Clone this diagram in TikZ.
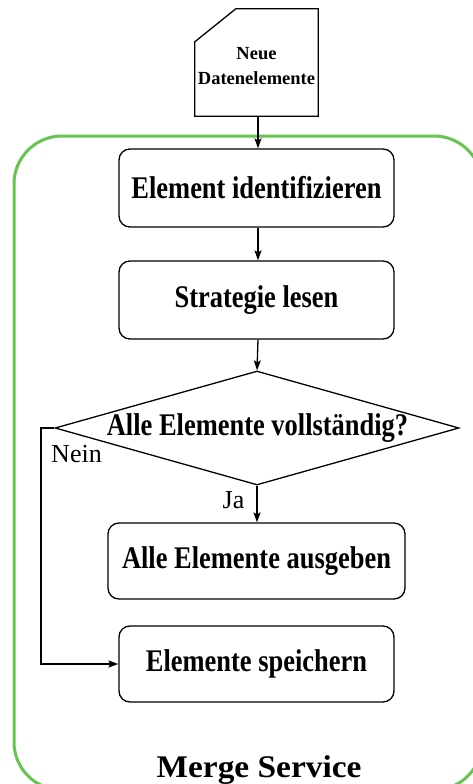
\documentclass[tikz,border=0pt]{standalone}
\usepackage{fontspec}
\setmainfont{Liberation Serif}
\newfontfamily\boxfont{Liberation Serif}[FakeStretch=0.84]
\newfontfamily\titlefont{Liberation Serif}[FakeStretch=1.06]
\usetikzlibrary{shapes.geometric,arrows.meta}
\definecolor{servicegreen}{RGB}{104,196,80}
\tikzset{
  flow/.style={line width=1.3pt, draw=black},
  arr/.style={flow, -{Stealth[length=10pt,width=7pt,inset=2pt]}},
  stepbox/.style={flow, rectangle, rounded corners=11pt, inner sep=0pt,
    minimum width=275pt, minimum height=78pt,
    font=\boxfont\bfseries\fontsize{31.5}{36}\selectfont},
  lbl/.style={font=\fontsize{26}{30}\selectfont, inner sep=0pt, anchor=base}
}
\begin{document}
\begin{tikzpicture}[x=1pt,y=-1pt]
\useasboundingbox (0,0) rectangle (472,784);
\fill[white] (0,0) rectangle (472,784);

% service container
\draw[servicegreen, line width=3pt, rounded corners=48pt] (14,136) rectangle (482,790);
\node[font=\titlefont\bfseries\fontsize{31.5}{36}\selectfont, inner sep=0pt, anchor=base] (title) at (259,777) {Merge Service};

% input document with a cut top-left corner
\node[minimum width=123pt, minimum height=107pt, inner sep=0pt] (doc) at (256.5,62.5) {};
\draw[flow, line join=miter] (doc.south west) -- ([yshift=-33pt]doc.north west)
  -- ([xshift=41pt]doc.north west) -- (doc.north east) -- (doc.south east) -- cycle;
\node[font=\bfseries\fontsize{18.5}{25}\selectfont, align=center, inner sep=0pt] (doctext) at (256.5,66) {Neue\\Datenelemente};

% steps
\node[stepbox] (ident) at (256.5,188) {Element identifizieren};
\node[stepbox] (strat) at (256.5,300) {Strategie lesen};
\node[flow, diamond, minimum width=404pt, minimum height=114pt, inner sep=0pt] (check) at (257,428) {};
\node[font=\boxfont\bfseries\fontsize{31.5}{36}\selectfont, inner sep=0pt] (checktext) at (257.5,428) {Alle Elemente vollständig?};
\node[stepbox, minimum width=297pt, minimum height=76pt] (out) at (256.5,561) {Alle Elemente ausgeben};
\node[stepbox, minimum height=76pt] (store) at (256.5,664) {Elemente speichern};

% connectors
\draw[arr] (doc.south -| 258,0) -- (ident.north -| 258,0);
\draw[arr] (ident.south -| 258,0) -- (strat.north -| 258,0);
\draw[arr] (strat.south -| 258,0) -- (check.north);
\draw[arr] (check.south) -- (out.north -| check.south);
\coordinate (bend) at (41,428);
\draw[arr] (check.west) -- (bend) |- (store.west);

% branch labels
\node[lbl] (nein) at (76.5,462) {Nein};
\node[lbl] (ja) at (233.5,508) {Ja};
\end{tikzpicture}
\end{document}
